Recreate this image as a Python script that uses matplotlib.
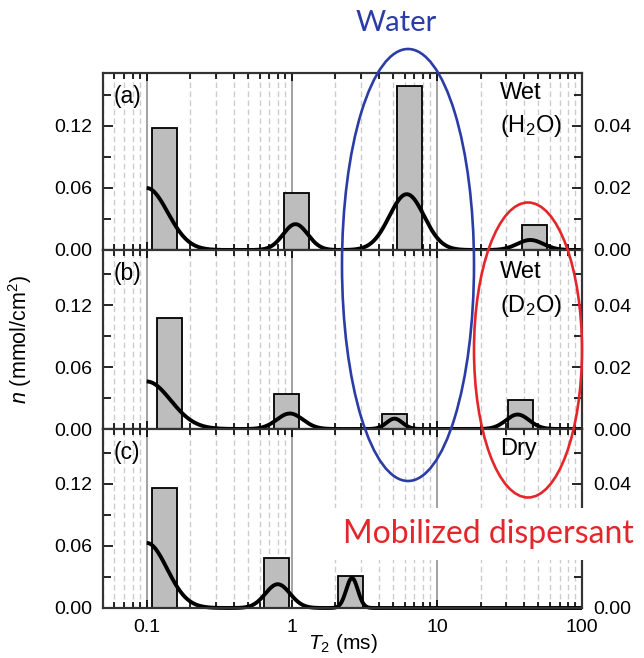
import numpy as np
import matplotlib.pyplot as plt
from matplotlib.patches import Ellipse
from matplotlib.ticker import FixedLocator, LogLocator, NullFormatter, FuncFormatter

plt.rcParams['font.family'] = ['Liberation Sans', 'DejaVu Sans']
plt.rcParams['mathtext.fontset'] = 'custom'
plt.rcParams['mathtext.rm'] = 'Liberation Sans'
plt.rcParams['mathtext.it'] = 'Liberation Sans:italic'

# T2 bins (ms) and amounts n (mmol/cm2) for each sample
bar_t_a = [0.132, 1.07, 6.5, 47.0]
bar_n_a = [0.118, 0.055, 0.159, 0.024]
bar_t_b = [0.144, 0.92, 5.1, 37.6]
bar_n_b = [0.107, 0.034, 0.015, 0.028]
bar_t_c = [0.132, 0.79, 2.52]
bar_n_c = [0.116, 0.048, 0.031]

# fitted T2 distribution peaks: position (ms), height, width (decades)
peak_t_a = [0.1, 1.06, 6.2, 44.0]
peak_n_a = [0.060, 0.025, 0.054, 0.0097]
peak_w_a = [0.145, 0.085, 0.12, 0.09]
peak_t_b = [0.1, 0.97, 5.1, 36.0]
peak_n_b = [0.046, 0.015, 0.010, 0.014]
peak_w_b = [0.165, 0.09, 0.055, 0.08]
peak_t_c = [0.1, 0.80, 2.6]
peak_n_c = [0.063, 0.023, 0.029]
peak_w_c = [0.14, 0.085, 0.04]

labels = ['(a)', '(b)', '(c)']
samples = [['Wet', '(H$_2$O)'], ['Wet', '(D$_2$O)'], ['Dry']]

bar_logwidth = 0.172
t_curve = np.logspace(-1, 2, 800)

W, H = 644, 658
fig = plt.figure(figsize=(W / 100, H / 100), dpi=100)


def px_axes(x0, y0, x1, y1):
    return fig.add_axes([x0 / W, 1 - y1 / H, (x1 - x0) / W, (y1 - y0) / H])


panels = [
    (73, 250, bar_t_a, bar_n_a, peak_t_a, peak_n_a, peak_w_a),
    (250, 429, bar_t_b, bar_n_b, peak_t_b, peak_n_b, peak_w_b),
    (429, 608, bar_t_c, bar_n_c, peak_t_c, peak_n_c, peak_w_c),
]

axes = []
for i, (y0, y1, bt, bn, pt, pn, pw) in enumerate(panels):
    ax = px_axes(103, y0, 582, y1)
    axes.append(ax)
    ax.set_xscale('log')
    ax.set_xlim(0.05, 100)
    ymax = (y1 - y0) / 62 * 0.06
    ax.set_ylim(0, ymax)

    # vertical grid
    ax.xaxis.set_minor_locator(LogLocator(base=10, subs=np.arange(2, 10)))
    ax.grid(True, axis='x', which='minor', ls=(0, (4, 2.5)), color='#cccccc', lw=1.0)
    ax.grid(True, axis='x', which='major', ls='-', color='#9a9a9a', lw=1.3)
    ax.set_axisbelow(True)

    # histogram bars
    bt = np.array(bt)
    left = bt / 10 ** (bar_logwidth / 2)
    right = bt * 10 ** (bar_logwidth / 2)
    ax.bar(left, bn, width=right - left, align='edge', color='#bdbdbd',
           edgecolor='black', lw=1.3, zorder=2)

    # fitted distribution
    lt = np.log10(t_curve)
    curve = np.zeros_like(t_curve)
    for t0, n0, w0 in zip(pt, pn, pw):
        curve += n0 * np.exp(-0.5 * ((lt - np.log10(t0)) / w0) ** 2)
    ax.plot(t_curve, curve, color='black', lw=2.8, zorder=3, clip_on=False,
            solid_capstyle='butt')

    ax.yaxis.set_major_locator(FixedLocator([0, 0.06, 0.12]))
    ax.yaxis.set_minor_locator(FixedLocator([0.03, 0.09, 0.15]))
    ax.yaxis.set_major_formatter(FuncFormatter(lambda v, p: f'{v:.2f}'))
    ax.tick_params(axis='y', which='both', direction='in', left=True, right=False,
                   labelsize=14, pad=8)
    ax.tick_params(axis='y', which='major', length=7, width=1.2)
    ax.tick_params(axis='y', which='minor', length=6, width=1.2)
    ax.tick_params(axis='x', which='both', direction='in', top=True, bottom=True,
                   labelsize=14, pad=8)
    ax.tick_params(axis='x', which='major', length=6, width=1.2)
    ax.tick_params(axis='x', which='minor', length=4, width=1.2)
    ax.xaxis.set_minor_formatter(NullFormatter())
    if i < 2:
        ax.tick_params(axis='x', labelbottom=False)
    else:
        ax.set_xticks([0.1, 1, 10, 100])
        ax.set_xticklabels(['0.1', '1', '10', '100'])

    for s in ax.spines.values():
        s.set_linewidth(1.5)

    # right axis; in the last panel the 0.02 label sits under the annotation box
    ax2 = ax.twinx()
    ax2.set_ylim(0, ymax / 3)
    ax2.yaxis.set_major_locator(FixedLocator([0, 0.02, 0.04]))
    ax2.yaxis.set_minor_locator(FixedLocator([0.01, 0.03, 0.05]))
    if i < 2:
        ax2.yaxis.set_major_formatter(FuncFormatter(lambda v, p: f'{v:.2f}'))
    else:
        ax2.yaxis.set_major_formatter(
            FuncFormatter(lambda v, p: '' if abs(v - 0.02) < 1e-9 else f'{v:.2f}'))
    ax2.tick_params(axis='y', which='both', direction='in', labelsize=14, pad=8)
    ax2.tick_params(axis='y', which='major', length=7, width=1.2)
    ax2.tick_params(axis='y', which='minor', length=6, width=1.2)
    for s in ax2.spines.values():
        s.set_linewidth(1.5)
        s.set_edgecolor('#333333')

    ax.text(0.022, 0.87, labels[i], transform=ax.transAxes, fontsize=16.5,
            va='center', ha='left', zorder=5)

text_pos = [[0.853, 0.667], [0.844, 0.654], [0.855]]
for ax, lines, ys in zip(axes, samples, text_pos):
    for line, y in zip(lines, ys):
        ax.text(0.829, y, line, transform=ax.transAxes, fontsize=17,
                va='baseline', ha='left', zorder=5)

axes[1].set_ylabel('$n$ (mmol/cm$^2$)', fontsize=15.5)
axes[1].yaxis.set_label_coords(-0.145, 0.5)
axes[2].set_xlabel('$T_2$ (ms)', fontsize=15)
axes[2].xaxis.set_label_coords(0.5, -0.135)

# annotation layer in pixel coordinates
ov = fig.add_axes([0, 0, 1, 1], zorder=10)
ov.set_xlim(0, W)
ov.set_ylim(H, 0)
ov.axis('off')
ov.patch.set_alpha(0)

blue = '#2b3ca6'
red = '#e3262a'
ov.add_patch(Ellipse((408, 265), 132, 432, fill=False, ec=blue, lw=1.9))
ov.add_patch(Ellipse((528, 350), 108, 295, fill=False, ec=red, lw=1.9))
ov.text(396, 23, 'Water', color=blue, fontsize=21, family='Lato',
        ha='center', va='center')
ov.text(343, 543, 'Mobilized dispersant', color=red, fontsize=23, family='Lato',
        ha='left', va='baseline',
        bbox=dict(fc='white', ec='none', pad=8))

fig.savefig('out.png', dpi=100)
